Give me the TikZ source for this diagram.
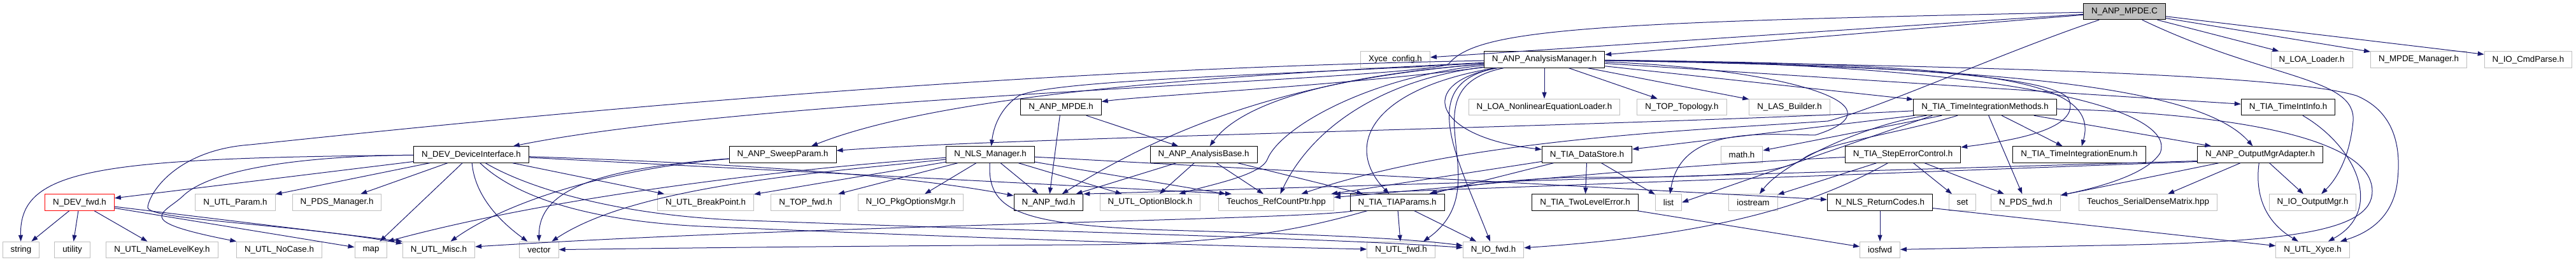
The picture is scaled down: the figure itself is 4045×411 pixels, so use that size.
\documentclass[tikz,border=0pt]{standalone}
\usepackage{fontspec}
\newfontfamily\dxfont{Liberation Sans}
\usetikzlibrary{arrows.meta}
\definecolor{edgeblue}{RGB}{25,25,112}
\definecolor{extgray}{RGB}{191,191,191}
\begin{document}
\begin{tikzpicture}[x=1pt,y=-1pt,
  docbox/.style={draw=black,line width=1pt,minimum height=25.5pt,inner xsep=12.5pt,inner ysep=0pt,fill=white,font=\dxfont\fontsize{13.33pt}{16pt}\selectfont},
  extbox/.style={docbox,draw=extgray},
  rootbox/.style={docbox,fill=extgray},
  redbox/.style={docbox,draw=red},
  dep/.style={draw=edgeblue,line width=1pt,-{Triangle[length=10pt,width=7pt]}}]
\useasboundingbox (0,0) rectangle (4045,411);
% row 0
\node[rootbox] (mpdec) at (3336,18) {N\_ANP\_MPDE.C};
% row 1
\node[extbox] (xyce) at (2191,93.5) {Xyce\_config.h};
\node[docbox] (am) at (2425,93.5) {N\_ANP\_AnalysisManager.h};
\node[extbox] (loaloader) at (3630,93.5) {N\_LOA\_Loader.h};
\node[extbox] (mpdemgr) at (3798,93.5) {N\_MPDE\_Manager.h};
\node[extbox] (cmdparse) at (3970,93.5) {N\_IO\_CmdParse.h};
% row 2
\node[docbox] (mpdeh) at (1666,168) {N\_ANP\_MPDE.h};
\node[extbox] (nleloader) at (2425,168) {N\_LOA\_NonlinearEquationLoader.h};
\node[extbox] (topo) at (2641,168) {N\_TOP\_Topology.h};
\node[extbox] (lasb) at (2810,168) {N\_LAS\_Builder.h};
\node[docbox] (tim) at (3117,168) {N\_TIA\_TimeIntegrationMethods.h};
\node[docbox] (tinfo) at (3593,168) {N\_TIA\_TimeIntInfo.h};
% row 3
\node[docbox] (di) at (740,242.5) {N\_DEV\_DeviceInterface.h};
\node[docbox] (sweep) at (1229,242.5) {N\_ANP\_SweepParam.h};
\node[docbox] (nls) at (1555,242.5) {N\_NLS\_Manager.h};
\node[docbox] (ab) at (1890,242.5) {N\_ANP\_AnalysisBase.h};
\node[docbox] (ds) at (2492,242.5) {N\_TIA\_DataStore.h};
\node[extbox] (math) at (2735,242.5) {math.h};
\node[docbox] (sec) at (2988,242.5) {N\_TIA\_StepErrorControl.h};
\node[docbox] (tie) at (3265,242.5) {N\_TIA\_TimeIntegrationEnum.h};
\node[docbox] (oma) at (3549,242.5) {N\_ANP\_OutputMgrAdapter.h};
% row 4
\node[redbox] (devfwd) at (125,317.5) {N\_DEV\_fwd.h};
\node[extbox] (param) at (369.5,317.5) {N\_UTL\_Param.h};
\node[extbox] (pdsmgr) at (529,317.5) {N\_PDS\_Manager.h};
\node[extbox] (bp) at (1108,317.5) {N\_UTL\_BreakPoint.h};
\node[extbox] (topfwd) at (1265,317.5) {N\_TOP\_fwd.h};
\node[extbox] (pkg) at (1430,317.5) {N\_IO\_PkgOptionsMgr.h};
\node[docbox] (anpfwd) at (1646.5,317.5) {N\_ANP\_fwd.h};
\node[extbox] (optblk) at (1806,317.5) {N\_UTL\_OptionBlock.h};
\node[extbox] (teuchos) at (2004,317.5) {Teuchos\_RefCountPtr.hpp};
\node[docbox] (tiap) at (2194,317.5) {N\_TIA\_TIAParams.h};
\node[docbox] (tle) at (2489,317.5) {N\_TIA\_TwoLevelError.h};
\node[extbox] (list) at (2620,317.5) {list};
\node[extbox] (iostream) at (2753,317.5) {iostream};
\node[docbox] (retcodes) at (2952,317.5) {N\_NLS\_ReturnCodes.h};
\node[extbox] (set) at (3081.5,317.5) {set};
\node[extbox] (pdsfwd) at (3181,317.5) {N\_PDS\_fwd.h};
\node[extbox] (sdm) at (3373,317.5) {Teuchos\_SerialDenseMatrix.hpp};
\node[extbox] (outmgr) at (3631.5,317.5) {N\_IO\_OutputMgr.h};
% row 5
\node[extbox] (string) at (33,392) {string};
\node[extbox] (utility) at (113.5,392) {utility};
\node[extbox] (nlk) at (254.5,392) {N\_UTL\_NameLevelKey.h};
\node[extbox] (nocase) at (438.5,392) {N\_UTL\_NoCase.h};
\node[extbox] (map) at (582.5,392) {map};
\node[extbox] (misc) at (689,392) {N\_UTL\_Misc.h};
\node[extbox] (vector) at (846.5,392) {vector};
\node[extbox] (utlfwd) at (2200,392) {N\_UTL\_fwd.h};
\node[extbox] (iofwd) at (2345,392) {N\_IO\_fwd.h};
\node[extbox] (iosfwd) at (2952,392) {iosfwd};
\node[extbox] (xyceutl) at (3631.5,392) {N\_UTL\_Xyce.h};

% ---- edges from N_ANP_MPDE.C
\draw[dep] (mpdec) -- (xyce);
\draw[dep] (mpdec) -- (am);
\draw[dep] (mpdec) -- (loaloader);
\draw[dep] (mpdec) -- (mpdemgr);
\draw[dep] (mpdec) -- (cmdparse);
\draw[dep] (mpdec) .. controls (3560,125) and (3700,120) .. (3695,190) .. controls (3690,245) and (3670,280) .. (outmgr);
\draw[dep] (mpdec) .. controls (3150,80) and (2950,170) .. (2870,190) .. controls (2650,205) and (2300,218) .. (teuchos);
\draw[dep] (mpdec) .. controls (2500,35) and (2320,45) .. (2275,100) .. controls (2240,125) and (1200,150) .. (di);

% ---- edges from N_ANP_AnalysisManager.h
\draw[dep] (am) -- (nleloader);
\draw[dep] (am) -- (topo);
\draw[dep] (am) -- (lasb);
\draw[dep] (am) -- (tim);
\draw[dep] (am) -- (tinfo);
\draw[dep] (am) .. controls (3100,105) and (3450,130) .. (oma);
\draw[dep] (am) .. controls (3100,100) and (3300,120) .. (tie);
\draw[dep] (am) .. controls (2900,100) and (3245,115) .. (3250,160) .. controls (3262,205) and (3150,222) .. (sec);
\draw[dep] (am) .. controls (2220,130) and (2250,215) .. (ds);
\draw[dep] (am) .. controls (2150,140) and (2110,230) .. (tiap);
\draw[dep] (am) .. controls (2170,125) and (2060,200) .. (teuchos);
\draw[dep] (am) .. controls (2150,120) and (2010,200) .. (1990,250) .. controls (1980,275) and (1900,290) .. (optblk);
\draw[dep] (am) .. controls (2100,118) and (1950,160) .. (ab);
\draw[dep] (am) .. controls (2050,122) and (1850,190) .. (anpfwd);
\draw[dep] (am) .. controls (2000,118) and (1660,125) .. (1600,150) .. controls (1570,170) and (1560,200) .. (nls);
\draw[dep] (am) .. controls (2100,135) and (1800,150) .. (mpdeh);
\draw[dep] (am) .. controls (2000,115) and (1500,140) .. ([xshift=45pt]sweep.north);
\draw[dep] (am) .. controls (1500,110) and (700,195) .. (393,227) .. controls (280,235) and (235,300) .. (232,325) .. controls (230,345) and (450,350) .. (misc);
\draw[dep] (am) .. controls (2800,108) and (3000,165) .. (2850,212) .. controls (2760,210) and (2640,200) .. (list);
\draw[dep] (am) .. controls (2220,130) and (2290,250) .. (iofwd);
\draw[dep] (am) .. controls (2200,140) and (2360,290) .. ([xshift=35pt]utlfwd.north);
\draw[dep] (am) .. controls (3200,105) and (3600,120) .. (3700,150) .. controls (3760,175) and (3770,230) .. (3765,280) .. controls (3760,340) and (3720,365) .. (xyceutl);
\draw[dep] (am) .. controls (3150,100) and (3420,170) .. (3392,240) .. controls (3370,275) and (3290,295) .. (pdsfwd);

% ---- N_ANP_MPDE.h, N_ANP_AnalysisBase.h
\draw[dep] (mpdeh) -- (anpfwd);
\draw[dep] (mpdeh) -- (ab);
\draw[dep] (ab) -- (anpfwd);
\draw[dep] (ab) -- (optblk);
\draw[dep] (ab) -- (teuchos);
\draw[dep] (ab) -- (tiap);

% ---- N_NLS_Manager.h
\draw[dep] (nls) -- (pkg);
\draw[dep] (nls) -- (anpfwd);
\draw[dep] (nls) -- (optblk);
\draw[dep] (nls) -- (teuchos);
\draw[dep] (nls) -- (topfwd);
\draw[dep] (nls) -- (bp);
\draw[dep] (nls) .. controls (1300,270) and (1000,290) .. (vector);
\draw[dep] (nls) .. controls (1300,260) and (900,300) .. (map.north east);
\draw[dep] (nls) -- (retcodes);
\draw[dep] (nls) .. controls (1550,330) and (1600,350) .. (1800,360) .. controls (2000,366) and (2200,372) .. (iofwd);

% ---- N_ANP_SweepParam.h
\draw[dep] (sweep) .. controls (950,265) and (790,320) .. (misc);
\draw[dep] (sweep) .. controls (930,265) and (846,300) .. (vector);

% ---- N_DEV_DeviceInterface.h
\draw[dep] (di) -- (devfwd);
\draw[dep] (di) -- (param);
\draw[dep] (di) -- (pdsmgr);
\draw[dep] (di) .. controls (150,248) and (30,265) .. (string);
\draw[dep] (di) -- (map);
\draw[dep] (di) .. controls (745,300) and (775,340) .. (vector);
\draw[dep] (di) -- (bp);
\draw[dep] (di) .. controls (450,245) and (330,270) .. (290,305) .. controls (260,335) and (200,345) .. (nocase);
\draw[dep] (di) .. controls (800,300) and (900,345) .. (1100,355) .. controls (1500,372) and (1900,386) .. (utlfwd);
\draw[dep] (di) .. controls (820,290) and (950,335) .. (1150,345) .. controls (1600,362) and (2100,374) .. (iofwd);
\draw[dep] (di) -- ([xshift=-70pt]teuchos.north);
\draw[dep] (di) .. controls (1100,255) and (1400,270) .. (anpfwd);

% ---- N_DEV_fwd.h
\draw[dep] (devfwd) -- (string);
\draw[dep] (devfwd) -- (utility);
\draw[dep] (devfwd) -- (nlk);
\draw[dep] (devfwd) -- (map);
\draw[dep] (devfwd) -- (misc.north west);

% ---- N_TIA_TIAParams.h
\draw[dep] (tiap) -- (utlfwd);
\draw[dep] (tiap) -- (iofwd);
\draw[dep] (tiap) .. controls (2050,345) and (1300,352) .. ([yshift=5pt]misc.east);
\draw[dep] (tiap) .. controls (2060,355) and (1950,383) .. (1700,384) .. controls (1300,386) and (1000,390) .. (vector);

% ---- N_TIA_DataStore.h
\draw[dep] (ds) -- (tle);
\draw[dep] (ds) -- (list);
\draw[dep] (ds) -- (tiap);
\draw[dep] (ds) -- (teuchos);

% ---- N_TIA_TwoLevelError.h, N_NLS_ReturnCodes.h
\draw[dep] (tle) -- (iosfwd);
\draw[dep] (retcodes) -- (iosfwd);
\draw[dep] (retcodes) -- (xyceutl);

% ---- N_TIA_StepErrorControl.h
\draw[dep] (sec) -- (set);
\draw[dep] (sec) -- (pdsfwd);
\draw[dep] (sec) -- (iostream);
\draw[dep] (sec) .. controls (2850,320) and (2700,368) .. (iofwd);
\draw[dep] (sec) .. controls (2600,260) and (2300,293) .. ([yshift=8pt]teuchos.east);

% ---- N_TIA_TimeIntegrationMethods.h
\draw[dep] (tim) -- (tie);
\draw[dep] (tim) -- (pdsfwd);
\draw[dep] (tim) -- (math);
\draw[dep] (tim) .. controls (2930,195) and (2800,255) .. (iostream);
\draw[dep] ([xshift=30pt]tim.south west) -- (list.east);
\draw[dep] (tim) -- (oma);
\draw[dep] (tim) -- (ds);
\draw[dep] (tim) .. controls (2500,200) and (1600,215) .. (sweep);
\draw[dep] (tim) .. controls (2980,210) and (2860,225) .. (2830,250) .. controls (2790,280) and (2600,278) .. (2480,278) .. controls (2380,280) and (2290,292) .. (tiap);
\draw[dep] (tim) .. controls (3500,178) and (3725,215) .. (3725,300) .. controls (3725,362) and (3600,380) .. (3300,385) .. controls (3150,388) and (3050,390) .. (iosfwd);

% ---- N_TIA_TimeIntInfo.h
\draw[dep] (tinfo) .. controls (3700,230) and (3745,330) .. (xyceutl);

% ---- N_ANP_OutputMgrAdapter.h
\draw[dep] (oma) -- (outmgr);
\draw[dep] (oma) -- (sdm);
\draw[dep] (oma) -- (pdsfwd);
\draw[dep] (oma) .. controls (3540,310) and (3560,350) .. (xyceutl);
\draw[dep] ([yshift=-10pt]oma.west) -- (anpfwd.north east);
\draw[dep] ([yshift=-11pt]oma.west) -- (teuchos.north east);
\end{tikzpicture}
\end{document}
